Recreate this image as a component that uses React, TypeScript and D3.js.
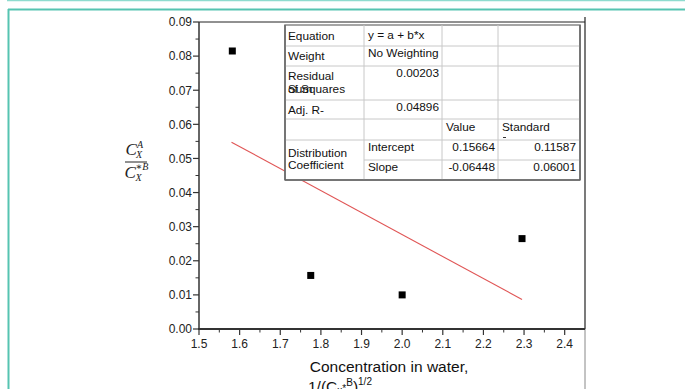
import React from "react";
import * as d3 from "d3";

const xValues = [1.582, 1.775, 2.0, 2.295];
const yValues = [0.0815, 0.0157, 0.01, 0.0265];
const fitIntercept = 0.15664;
const fitSlope = -0.06448;
const fitRange = [1.58, 2.295];
const xTicks = [1.5, 1.6, 1.7, 1.8, 1.9, 2.0, 2.1, 2.2, 2.3, 2.4];
const yTicks = [0, 0.01, 0.02, 0.03, 0.04, 0.05, 0.06, 0.07, 0.08, 0.09];
const xMinor = [1.55, 1.65, 1.75, 1.85, 1.95, 2.05, 2.15, 2.25, 2.35];
const yMinor = [0.005, 0.015, 0.025, 0.035, 0.045, 0.055, 0.065, 0.075, 0.085];

const W = 685;
const H = 389;
const L = 199, R = 585, T = 22, B = 329;
const font = "'Liberation Sans', Arial, sans-serif";

export default function App() {
  const x = d3.scaleLinear().domain([1.5, 2.45]).range([L, R]);
  const y = d3.scaleLinear().domain([0, 0.09]).range([B, T]);
  const fitLine = d3.line<number>().x((d) => x(d)).y((d) => y(fitIntercept + fitSlope * d));

  // table geometry
  const tx = [285, 364, 442, 498, 580];
  const ty = [25, 46, 66, 100, 119, 140, 160, 180];
  const fs = 11.8;
  const tc = "#111";

  return (
    <svg width={W} height={H} style={{ position: "absolute", left: 0, top: 0, background: "#fff" }} fontFamily={font}>
      <rect x={0} y={0} width={W} height={H} fill="#fff" />
      {/* frame */}
      <line x1={7} x2={W} y1={0.5} y2={0.5} stroke="#8fdccf" strokeWidth={1.5} />
      <line x1={8} x2={W} y1={9.5} y2={9.5} stroke="#56c4b1" strokeWidth={2} />
      <line x1={8.5} x2={8.5} y1={9} y2={H} stroke="#56c4b1" strokeWidth={2} />

      {/* plot box */}
      <line x1={L} x2={R} y1={T} y2={T} stroke="#222" strokeWidth={1} />
      <line x1={R} x2={R} y1={17} y2={B} stroke="#222" strokeWidth={1.2} />
      <line x1={R} x2={R} y1={B} y2={H} stroke="#888" strokeWidth={1} />
      <line x1={L} x2={L} y1={T} y2={B} stroke="#333" strokeWidth={1.5} />
      <line x1={L - 1} x2={R} y1={B} y2={B} stroke="#333" strokeWidth={2} />

      {/* y ticks */}
      {yTicks.map((t) => (
        <g key={"yt" + t}>
          <line x1={L - 6} x2={L} y1={y(t)} y2={y(t)} stroke="#333" strokeWidth={1.2} />
          <text x={L - 7} y={y(t)} dy="0.36em" textAnchor="end" fontSize={12} fill="#222">
            {t.toFixed(2)}
          </text>
        </g>
      ))}
      {yMinor.map((t) => (
        <line key={"ym" + t} x1={L - 3.5} x2={L} y1={y(t)} y2={y(t)} stroke="#333" strokeWidth={1} />
      ))}
      {/* x ticks */}
      {xTicks.map((t) => (
        <g key={"xt" + t}>
          <line x1={x(t)} x2={x(t)} y1={B} y2={B + 6} stroke="#333" strokeWidth={1.2} />
          <text x={x(t)} y={B + 19} textAnchor="middle" fontSize={12} fill="#222">
            {t.toFixed(1)}
          </text>
        </g>
      ))}
      {xMinor.map((t) => (
        <line key={"xm" + t} x1={x(t)} x2={x(t)} y1={B} y2={B + 3.5} stroke="#333" strokeWidth={1} />
      ))}

      {/* fit line */}
      <path d={fitLine(fitRange) || ""} fill="none" stroke="#e05555" strokeWidth={1.1} />

      {/* points */}
      {xValues.map((v, i) => (
        <rect key={"p" + i} x={x(v) - 3.5} y={y(yValues[i]) - 3.5} width={7} height={7} fill="#000" />
      ))}

      {/* table */}
      <g>
        <rect x={tx[0]} y={ty[0]} width={tx[4] - tx[0]} height={ty[7] - ty[0]} fill="#fff" stroke="#888" strokeWidth={1.5} />
        {ty.slice(1, 7).map((yy, i) =>
          i === 5 ? (
            <line key={"h" + i} x1={tx[1]} x2={tx[4]} y1={yy} y2={yy} stroke="#c8c8c8" />
          ) : (
            <line key={"h" + i} x1={tx[0]} x2={tx[4]} y1={yy} y2={yy} stroke="#c8c8c8" />
          )
        )}
        {tx.slice(1, 4).map((xx, i) => (
          <line key={"v" + i} x1={xx} x2={xx} y1={ty[0]} y2={ty[7]} stroke="#c8c8c8" />
        ))}
        <line x1={tx[0]} x2={tx[0]} y1={ty[0]} y2={ty[7]} stroke="#666" strokeWidth={1.5} />
        <line x1={tx[0]} x2={tx[4]} y1={ty[7]} y2={ty[7]} stroke="#666" strokeWidth={1.5} />
        <line x1={tx[4]} x2={tx[4]} y1={ty[0]} y2={ty[7]} stroke="#666" strokeWidth={1.5} />
        <g fontSize={fs} fill={tc}>
          <text x={288} y={40}>Equation</text>
          <text x={288} y={60}>Weight</text>
          <text x={288} y={80}>Residual</text>
          <text x={288} y={93}>Sum</text>
          <text x={288} y={93}>of Squares</text>
          <text x={288} y={114}>Adj. R-</text>
          <text x={288} y={157}>Distribution</text>
          <text x={288} y={169}>Coefficient</text>

          <text x={368} y={39}>y = a + b*x</text>
          <text x={368} y={57}>No Weighting</text>
          <text x={439} y={77} textAnchor="end">0.00203</text>
          <text x={439} y={111} textAnchor="end">0.04896</text>
          <text x={368} y={151}>Intercept</text>
          <text x={368} y={171}>Slope</text>

          <text x={446} y={131}>Value</text>
          <text x={495} y={151} textAnchor="end">0.15664</text>
          <text x={495} y={171} textAnchor="end">-0.06448</text>

          <text x={502} y={131}>Standard</text>
          <line x1={503} x2={506} y1={137.5} y2={137.5} stroke="#333" strokeWidth={1} />
          <text x={576} y={151} textAnchor="end">0.11587</text>
          <text x={576} y={171} textAnchor="end">0.06001</text>
        </g>
      </g>

      {/* y title fraction */}
      <g fontFamily="'Liberation Serif', 'DejaVu Serif', serif" fontStyle="italic" fill="#222">
        <text x={125.5} y={155} fontSize={17}>C</text>
        <text x={137} y={148} fontSize={10}>A</text>
        <text x={136} y={158} fontSize={10}>X</text>
        <line x1={125} x2={147} y1={162} y2={162} stroke="#222" strokeWidth={1} />
        <text x={124.5} y={178} fontSize={17}>C</text>
        <text x={135.5} y={170} fontSize={10}>∗B</text>
        <text x={135.5} y={181} fontSize={10}>X</text>
      </g>

      {/* x title */}
      <text x={389} y={372} textAnchor="middle" fontSize={15.5} fill="#111">
        Concentration in water,
      </text>
      <text x={308} y={392} fontSize={15.5} fill="#111">
        1/(C
        <tspan fontSize={10} dy={2}>x</tspan>
        <tspan fontSize={10} dy={-2}>*</tspan>
        <tspan fontSize={10} dy={-6}>B</tspan>
        <tspan dy={6}>)</tspan>
        <tspan fontSize={10} dy={-7}>1/2</tspan>
      </text>
    </svg>
  );
}
